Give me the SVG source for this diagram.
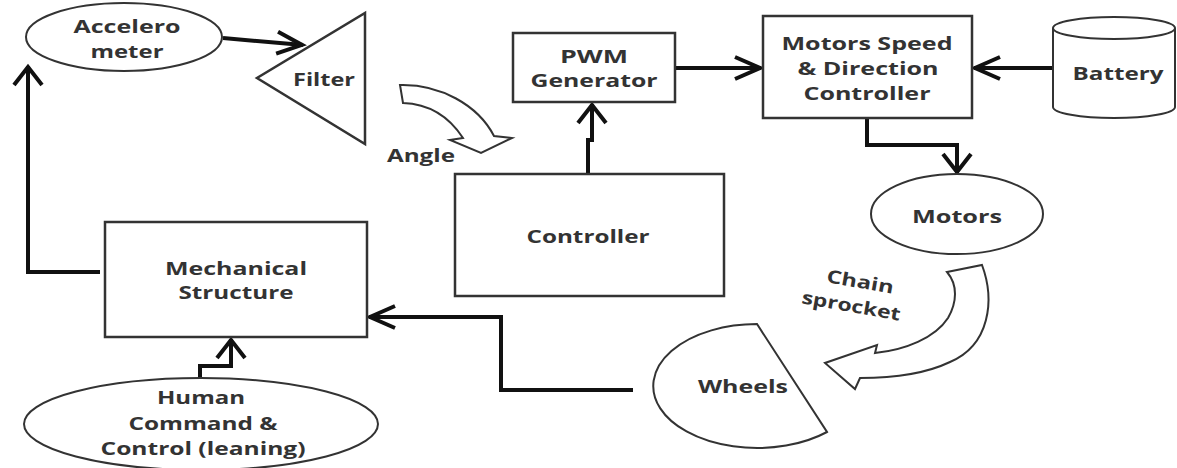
<svg xmlns="http://www.w3.org/2000/svg" width="1177" height="468" viewBox="0 0 1177 468">
  <style>
    .shape { fill: #fff; stroke: #333; stroke-width: 2.5; }
    .oval { fill: #fff; stroke: #333; stroke-width: 2; }
    .block { fill: #fff; stroke: #333; stroke-width: 2; stroke-linejoin: miter; }
    .conn { fill: none; stroke: #111; stroke-width: 4; stroke-linejoin: miter; }
    .lbl { font-family: "Open Sans", "Liberation Sans", sans-serif; font-weight: bold; font-size: 18px; fill: #333; text-anchor: middle; }
  </style>
  <defs>
    <marker id="arrH" viewBox="-30 -16 34 32" refX="0" refY="0" markerWidth="34" markerHeight="32" orient="auto" markerUnits="userSpaceOnUse">
      <path d="M-26,-11 L-1,0 L-26,11" fill="none" stroke="#111" stroke-width="4"/>
    </marker>
    <marker id="arrV" viewBox="-24 -20 28 40" refX="0" refY="0" markerWidth="28" markerHeight="40" orient="auto" markerUnits="userSpaceOnUse">
      <path d="M-19,-14 L-1,0 L-19,14" fill="none" stroke="#111" stroke-width="4"/>
    </marker>
  </defs>

  <g id="connectors">
    <path class="conn" d="M223,38 L303,45" marker-end="url(#arrH)"/>
    <path class="conn" d="M675,68 H761" marker-end="url(#arrH)"/>
    <path class="conn" d="M1052,68 H974" marker-end="url(#arrH)"/>
    <path class="conn" d="M588,174 V140 H592 V104" marker-end="url(#arrV)"/>
    <path class="conn" d="M867,118 V145 H957 V173" marker-end="url(#arrV)"/>
    <path class="conn" d="M200,378 V366 H231 V339" marker-end="url(#arrV)"/>
    <path class="conn" d="M100,272 H28 V66" marker-end="url(#arrV)"/>
    <path class="conn" d="M633,390 H501 V317 H369" marker-end="url(#arrH)"/>
  </g>

  <g id="accelerometer">
    <ellipse class="oval" cx="124" cy="37" rx="98" ry="34"/>
    <text class="lbl" x="127" y="33" textLength="107" lengthAdjust="spacingAndGlyphs">Accelero</text>
    <text class="lbl" x="127" y="58" textLength="73" lengthAdjust="spacingAndGlyphs">meter</text>
  </g>

  <g id="filter">
    <polygon class="shape" points="365,13 365,144 257,78"/>
    <text class="lbl" x="324" y="86" textLength="62" lengthAdjust="spacingAndGlyphs">Filter</text>
  </g>

  <g id="angle">
    <path class="block" d="M400,85 C440,84 478,105 494,136 L512,138 L481,153 L450,140 L463,138 C450,118 430,104 403,103 Z"/>
    <text class="lbl" x="421" y="162" textLength="68" lengthAdjust="spacingAndGlyphs">Angle</text>
  </g>

  <g id="pwm">
    <rect class="shape" x="513" y="33" width="162" height="69"/>
    <text class="lbl" x="594" y="63" textLength="68" lengthAdjust="spacingAndGlyphs">PWM</text>
    <text class="lbl" x="594" y="87" textLength="127" lengthAdjust="spacingAndGlyphs">Generator</text>
  </g>

  <g id="motors-speed">
    <rect class="shape" x="763" y="16" width="209" height="102"/>
    <text class="lbl" x="867" y="50" textLength="171" lengthAdjust="spacingAndGlyphs">Motors Speed</text>
    <text class="lbl" x="868" y="75" textLength="141" lengthAdjust="spacingAndGlyphs">&amp; Direction</text>
    <text class="lbl" x="867" y="100" textLength="127" lengthAdjust="spacingAndGlyphs">Controller</text>
  </g>

  <g id="battery">
    <path class="oval" d="M1053,28 V107 A61,11 0 0 0 1175,107 V28"/>
    <ellipse class="oval" cx="1114" cy="28" rx="61" ry="11"/>
    <text class="lbl" x="1118" y="80" textLength="91" lengthAdjust="spacingAndGlyphs">Battery</text>
  </g>

  <g id="controller">
    <rect class="shape" x="455" y="174" width="269" height="122"/>
    <text class="lbl" x="588" y="243" textLength="123" lengthAdjust="spacingAndGlyphs">Controller</text>
  </g>

  <g id="motors">
    <ellipse class="oval" cx="957" cy="214" rx="86" ry="40"/>
    <text class="lbl" x="957" y="223" textLength="90" lengthAdjust="spacingAndGlyphs">Motors</text>
  </g>

  <g id="chain-sprocket">
    <path class="block" d="M947,272 L982,265 C995,300 990,345 950,362 C925,374 890,378 860,378 L855,389 L825,363 L877,345 L875,353 C905,350 935,338 948,318 C957,302 958,285 947,272 Z"/>
    <text class="lbl" x="860" y="288" textLength="68" lengthAdjust="spacingAndGlyphs" transform="rotate(10 860 283)">Chain</text>
    <text class="lbl" x="851" y="312" textLength="100" lengthAdjust="spacingAndGlyphs" transform="rotate(10 851 307)">sprocket</text>
  </g>

  <g id="wheels">
    <path class="oval" d="M757,324 A104,62 0 1 0 827,432 Z"/>
    <text class="lbl" x="743" y="393" textLength="90" lengthAdjust="spacingAndGlyphs">Wheels</text>
  </g>

  <g id="mechanical">
    <rect class="shape" x="105" y="222" width="262" height="115"/>
    <text class="lbl" x="236" y="275" textLength="142" lengthAdjust="spacingAndGlyphs">Mechanical</text>
    <text class="lbl" x="236" y="299" textLength="115" lengthAdjust="spacingAndGlyphs">Structure</text>
  </g>

  <g id="human">
    <ellipse class="oval" cx="201" cy="424" rx="177" ry="46"/>
    <text class="lbl" x="201" y="404" textLength="88" lengthAdjust="spacingAndGlyphs">Human</text>
    <text class="lbl" x="203" y="430" textLength="149" lengthAdjust="spacingAndGlyphs">Command &amp;</text>
    <text class="lbl" x="203" y="455" textLength="205" lengthAdjust="spacingAndGlyphs">Control (leaning)</text>
  </g>
</svg>
